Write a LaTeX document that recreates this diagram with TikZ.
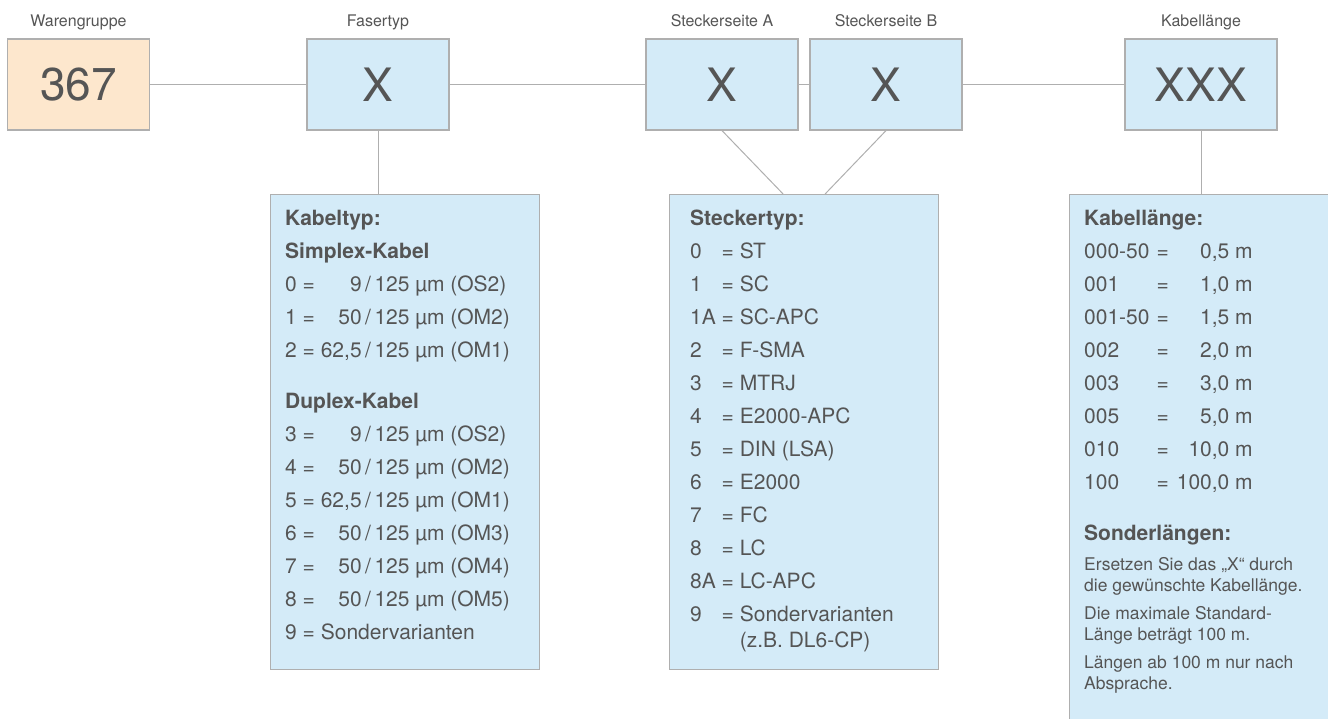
\documentclass[tikz,border=0pt]{standalone}
\usepackage{fontspec}
\setmainfont{TeX Gyre Heros}
\usetikzlibrary{positioning,calc}
\definecolor{boxblue}{RGB}{212,235,248}
\definecolor{boxpeach}{RGB}{253,231,205}
\definecolor{linegray}{RGB}{175,175,175}
\definecolor{textgray}{RGB}{85,85,85}
\tikzset{
    codebox/.style={draw=linegray,line width=1.2pt,fill=boxblue,minimum width=152pt,minimum height=91pt,inner sep=0pt,text=textgray,font=\fontsize{46}{46}\selectfont},
    infobox/.style={draw=linegray,line width=1.2pt,fill=boxblue,anchor=north west,inner sep=0pt},
    toplabel/.style={anchor=base,text=textgray,font=\fontsize{16}{19}\selectfont},
    infotext/.style={anchor=base west,inner sep=0pt,text=textgray,font=\fontsize{21}{33}\selectfont},
    smalltext/.style={anchor=base west,inner sep=0pt,text=textgray,font=\fontsize{17.5}{21}\selectfont},
    link/.style={draw=linegray,line width=1pt}
}

\begin{document}
\begin{tikzpicture}[x=1pt,y=-1pt]
    \useasboundingbox (0,0) rectangle (1328,719);
    \clip (0,0) rectangle (1328,719);
    % code positions
    \node[codebox,fill=boxpeach,minimum width=142pt] (waren) at (78.5,84.5) {367};
    \node[codebox,minimum width=142pt] (faser) at (378,84.5) {X};
    \node[codebox] (steckA) at (722,84.5) {X};
    \node[codebox] (steckB) at (886,84.5) {X};
    \node[codebox] (laenge) at (1201,84.5) {XXX};
    \node[toplabel] (warenlabel) at (78.5,27) {Warengruppe};
    \node[toplabel] (faserlabel) at (378,27) {Fasertyp};
    \node[toplabel] (steckAlabel) at (722,27) {Steckerseite A};
    \node[toplabel] (steckBlabel) at (886,27) {Steckerseite B};
    \node[toplabel] (laengelabel) at (1201,27) {Kabellänge};
    % legend boxes
    \node[infobox,minimum width=269pt,minimum height=475pt] (kabeltyp) at (270,194) {};
    \node[infobox,minimum width=269pt,minimum height=475pt] (stecker) at (669,194) {};
    \node[infobox,minimum width=300pt,minimum height=600pt] (laengebox) at (1069,194) {};
    \draw[link] (waren.east) -- (faser.west);
    \draw[link] (faser.east) -- (steckA.west);
    \draw[link] (steckA.east) -- (steckB.west);
    \draw[link] (steckB.east) -- (laenge.west);
    \draw[link] (faser.south) -- (faser.south |- kabeltyp.north);
    \draw[link] (steckA.south) -- ($(stecker.north)+(-21,0)$);
    \draw[link] (steckB.south) -- ($(stecker.north)+(21,0)$);
    \draw[link] (laenge.south) -- (laenge.south |- laengebox.north);
    \node[infotext] (kabeltyptext) at (285,226) {\begin{tabular}[t]{@{}l@{\ }r@{\,/\,}l@{}}
        \multicolumn{3}{@{}l@{}}{\bfseries Kabeltyp:}\\
        \multicolumn{3}{@{}l@{}}{\bfseries Simplex-Kabel}\\
        0 = & 9 & 125 µm (OS2)\\
        1 = & 50 & 125 µm (OM2)\\
        2 = & 62,5 & 125 µm (OM1)\\[18pt]
        \multicolumn{3}{@{}l@{}}{\bfseries Duplex-Kabel}\\
        3 = & 9 & 125 µm (OS2)\\
        4 = & 50 & 125 µm (OM2)\\
        5 = & 62,5 & 125 µm (OM1)\\
        6 = & 50 & 125 µm (OM3)\\
        7 = & 50 & 125 µm (OM4)\\
        8 = & 50 & 125 µm (OM5)\\
        \multicolumn{3}{@{}l@{}}{9 = Sondervarianten}
    \end{tabular}};
    \node[infotext] (steckertext) at (690,226) {\begin{tabular}[t]{@{}l@{\ }l@{}}
        \multicolumn{2}{@{}l@{}}{\bfseries Steckertyp:}\\
        0 & = ST\\
        1 & = SC\\
        1A & = SC-APC\\
        2 & = F-SMA\\
        3 & = MTRJ\\
        4 & = E2000-APC\\
        5 & = DIN (LSA)\\
        6 & = E2000\\
        7 & = FC\\
        8 & = LC\\
        8A & = LC-APC\\
        9 & = Sondervarianten\\[-7pt]
        & \phantom{=}\ (z.B. DL6-CP)
    \end{tabular}};
    \node[infotext] (laengetext) at (1084,226) {\begin{tabular}[t]{@{}l@{\hspace{7pt}}c@{\hspace{8pt}}r@{}}
        \multicolumn{3}{@{}l@{}}{\bfseries Kabellänge:}\\
        000-50 & = & 0,5 m\\
        001 & = & 1,0 m\\
        001-50 & = & 1,5 m\\
        002 & = & 2,0 m\\
        003 & = & 3,0 m\\
        005 & = & 5,0 m\\
        010 & = & 10,0 m\\
        100 & = & 100,0 m\\[18pt]
        \multicolumn{3}{@{}l@{}}{\bfseries Sonderlängen:}
    \end{tabular}};
    \node[smalltext] (sondertext) at (1084,570) {\begin{tabular}[t]{@{}l@{}}
        Ersetzen Sie das „X“ durch\\
        die gewünschte Kabellänge.\\[7pt]
        Die maximale Standard-\\
        Länge beträgt 100 m.\\[7pt]
        Längen ab 100 m nur nach\\
        Absprache.
    \end{tabular}};
\end{tikzpicture}
\end{document}
